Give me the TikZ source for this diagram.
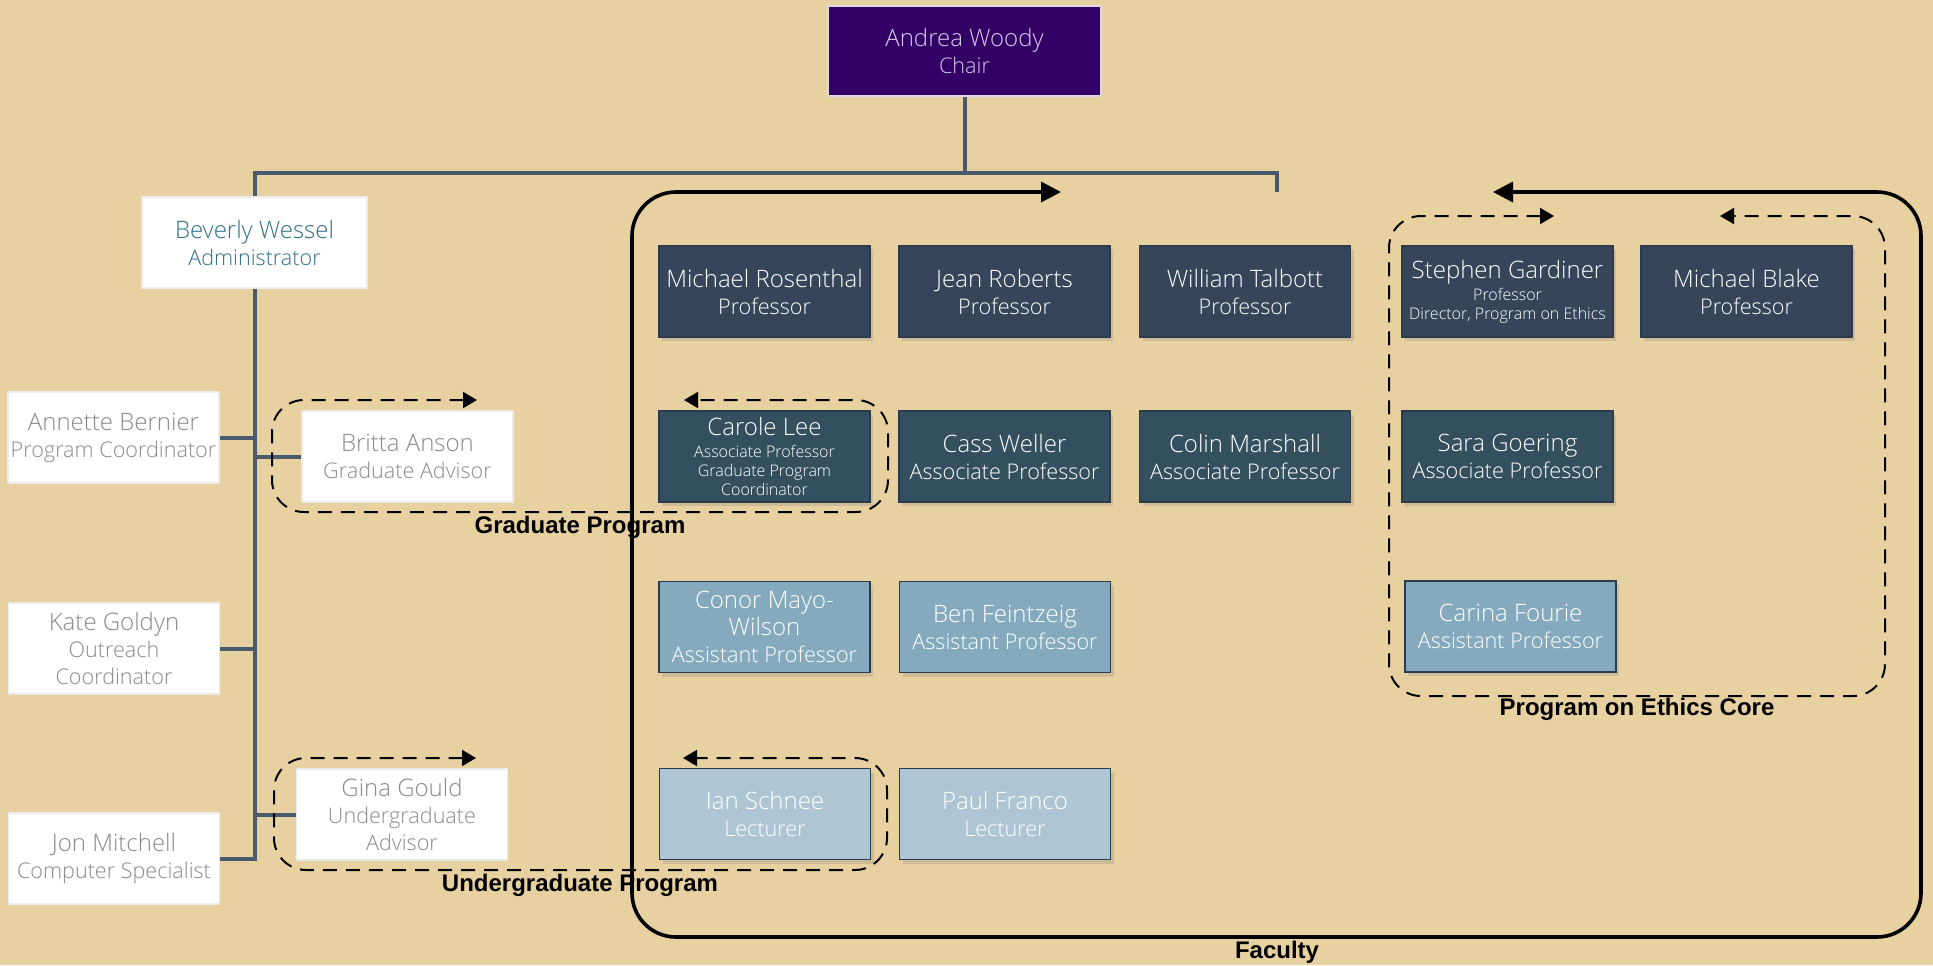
\documentclass[tikz,border=0pt]{standalone}
\usepackage{fontspec}
\setmainfont{Open Sans Light}
\newfontfamily\labelfont{Liberation Sans}
\usetikzlibrary{arrows.meta,shadows}
\definecolor{bgtan}{HTML}{E8D1A0}
\definecolor{chairpurple}{HTML}{330066}
\definecolor{chairtext}{HTML}{D6CCE8}
\definecolor{chairedge}{HTML}{DCD8E6}
\definecolor{wesselteal}{HTML}{2E7088}
\definecolor{staffgrey}{HTML}{8A8A8A}
\definecolor{orggrey}{HTML}{4A5A6E}
\definecolor{profblue}{HTML}{36455A}
\definecolor{assocblue}{HTML}{34505F}
\definecolor{assistblue}{HTML}{85AABD}
\definecolor{lectblue}{HTML}{AEC6D3}
\definecolor{facline}{HTML}{2A3B4D}
\newcommand\rolesize{\fontsize{10.8}{13.5}\selectfont}
\newcommand\notesize{\fontsize{8}{9.5}\selectfont}
\begin{document}
\begin{tikzpicture}[x=.5pt,y=-.5pt,
  box/.style={draw,line width=.8pt,minimum width=105.5pt,minimum height=45.5pt,
    inner sep=1pt,align=center,font=\fontsize{12}{13.5}\selectfont},
  staff/.style={box,fill=white,draw=black!8,text=staffgrey},
  fac/.style={box,draw=facline,text=white,
    drop shadow={shadow xshift=1.5pt,shadow yshift=-2pt,opacity=.25}},
  prof/.style={fac,fill=profblue},
  assoc/.style={fac,fill=assocblue},
  assist/.style={fac,fill=assistblue},
  lect/.style={fac,fill=lectblue},
  orgline/.style={line width=2pt,draw=orggrey},
  loop/.style={line width=1pt,dash pattern=on 7pt off 4.5pt,rounded corners=16pt,
    {Triangle[length=7pt,width=8pt]}-{Triangle[length=7pt,width=8pt]}},
  frame/.style={line width=1.8pt,rounded corners=22pt,
    {Triangle[length=10pt,width=10pt]}-{Triangle[length=10pt,width=10pt]}},
  grouplabel/.style={font=\labelfont\bfseries\fontsize{12}{14}\selectfont}]
\fill[bgtan] (0,0) rectangle (1933,965);
\useasboundingbox (0,0) rectangle (1933,965);

\node[draw=chairedge,fill=chairpurple,text=chairtext,line width=1pt,
  minimum width=136.5pt,minimum height=45pt,align=center,
  font=\fontsize{12}{13.5}\selectfont] (chair) at (964.5,51) {Andrea Woody\\\rolesize Chair};

\node[staff,minimum width=112.5pt,text=wesselteal] (wessel) at (254.5,242.5) {Beverly Wessel\\\rolesize Administrator};
\node[staff] (bernier) at (113.5,437.5) {Annette Bernier\\\rolesize Program Coordinator};
\node[staff] (anson) at (407.5,456.5) {Britta Anson\\\rolesize Graduate Advisor};
\node[staff] (goldyn) at (114,648.5) {Kate Goldyn\\\rolesize Outreach\\\rolesize Coordinator};
\node[staff] (mitchell) at (114,858.5) {Jon Mitchell\\\rolesize Computer Specialist};
\node[staff] (gould) at (402,814.5) {Gina Gould\\\rolesize Undergraduate\\\rolesize Advisor};

\node[prof] (rosenthal) at (764.5,291.5) {Michael Rosenthal\\\rolesize Professor};
\node[prof] (roberts) at (1004.5,291.5) {Jean Roberts\\\rolesize Professor};
\node[prof] (talbott) at (1245,291.5) {William Talbott\\\rolesize Professor};
\node[prof] (gardiner) at (1507.5,291.5) {Stephen Gardiner\\[-2.5pt]\notesize Professor\\[-4pt]\notesize Director, Program on Ethics};
\node[prof] (blake) at (1746.5,291.5) {Michael Blake\\\rolesize Professor};

\node[assoc] (lee) at (764.5,456.5) {Carole Lee\\[-2.5pt]\notesize Associate Professor\\[-4pt]\notesize Graduate Program\\[-4pt]\notesize Coordinator};
\node[assoc] (weller) at (1004.5,456.5) {Cass Weller\\\rolesize Associate Professor};
\node[assoc] (marshall) at (1245,456.5) {Colin Marshall\\\rolesize Associate Professor};
\node[assoc] (goering) at (1507.5,456.5) {Sara Goering\\\rolesize Associate Professor};

\node[assist] (mayowilson) at (764.5,627) {Conor Mayo-\\Wilson\\\rolesize Assistant Professor};
\node[assist] (feintzeig) at (1005,627) {Ben Feintzeig\\\rolesize Assistant Professor};
\node[assist] (fourie) at (1510.5,626.5) {Carina Fourie\\\rolesize Assistant Professor};

\node[lect] (schnee) at (765,814) {Ian Schnee\\\rolesize Lecturer};
\node[lect] (franco) at (1005,814) {Paul Franco\\\rolesize Lecturer};

\coordinate (hubL) at (254.5,173);
\coordinate (hubR) at (1277,173);
\coordinate (facgap) at (1277,192);
\draw[orgline] (chair.south) -- (chair.south |- hubL);
\draw[orgline] (wessel.north) -- (hubL) -- (hubR) -- (facgap);
\draw[orgline] (wessel.south) -- (wessel.south |- mitchell.east) -- (mitchell.east);
\draw[orgline] (bernier.east) -- (bernier.east -| wessel.south);
\draw[orgline] (goldyn.east) -- (goldyn.east -| wessel.south);
\draw[orgline] (anson.west) -- (anson.west -| wessel.south);
\draw[orgline] (gould.west) -- (gould.west -| wessel.south);

\draw[frame] (1061,192) -- (632,192) -- (632,937) -- (1921,937) -- (1921,192) -- (1493,192);
\draw[loop] (477,400) -- (272,400) -- (272,512) -- (888,512) -- (888,400) -- (684,400);
\draw[loop] (476,758) -- (274,758) -- (274,870) -- (887,870) -- (887,758) -- (683,758);
\draw[loop] (1554,216) -- (1389,216) -- (1389,696) -- (1885,696) -- (1885,216) -- (1720,216);

\node[grouplabel] (gradlabel) at (580,527) {Graduate Program};
\node[grouplabel] (ugradlabel) at (580,885) {Undergraduate Program};
\node[grouplabel] (ethicslabel) at (1637,709) {Program on Ethics Core};
\node[grouplabel] (faclabel) at (1277,952) {Faculty};
\end{tikzpicture}
\end{document}
